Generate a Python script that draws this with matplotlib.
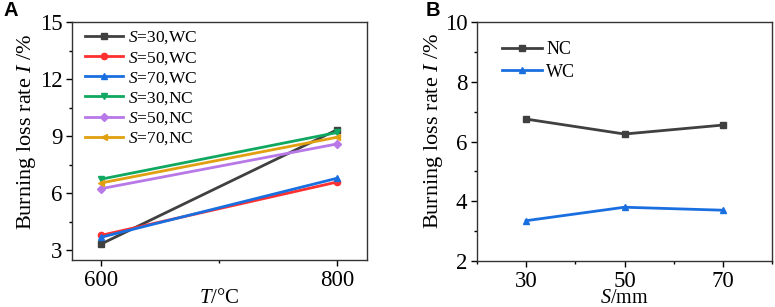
import matplotlib.pyplot as plt
from matplotlib.ticker import MultipleLocator

plt.rcParams['font.family'] = ['Liberation Serif', 'DejaVu Serif']
plt.rcParams['mathtext.fontset'] = 'custom'
plt.rcParams['mathtext.it'] = 'Liberation Serif:italic'
plt.rcParams['mathtext.rm'] = 'Liberation Serif'

# Panel A data
temps = [600, 800]
series_a_labels = ['$S$=30,WC', '$S$=50,WC', '$S$=70,WC', '$S$=30,NC', '$S$=50,NC', '$S$=70,NC']
s30_wc = [3.35, 9.35]
s50_wc = [3.8, 6.6]
s70_wc = [3.7, 6.8]
s30_nc = [6.75, 9.2]
s50_nc = [6.25, 8.6]
s70_nc = [6.55, 8.95]

# Panel B data
spacing = [30, 50, 70]
nc_vals = [6.75, 6.25, 6.55]
wc_vals = [3.35, 3.8, 3.7]

colors = ['#404040', '#ff3030', '#1a6fe0', '#10a860', '#b878e8', '#e0a010']
markers = ['s', 'o', '^', 'v', 'D', '<']

fig = plt.figure(figsize=(7.75, 3.07), dpi=100)
W, H = 775, 307
axA = fig.add_axes([72 / W, 1 - 260 / H, (367 - 72) / W, (260 - 22) / H])
axB = fig.add_axes([477 / W, 1 - 261 / H, (772 - 477) / W, (261 - 22) / H])

for vals, lab, c, m in zip([s30_wc, s50_wc, s70_wc, s30_nc, s50_nc, s70_nc],
                           series_a_labels, colors, markers):
    axA.plot(temps, vals, color=c, marker=m, markersize=4.5 if m != 'D' else 4,
             lw=2, label=lab)
axA.set_xlim(575, 825)
axA.set_ylim(2.5, 15)
axA.set_xticks([600, 800])
axA.xaxis.set_minor_locator(MultipleLocator(100))
axA.set_yticks([3, 6, 9, 12, 15])
axA.yaxis.set_minor_locator(MultipleLocator(1.5))
axA.set_xlabel('$T$/°C', fontsize=15, labelpad=-1.5)
axA.set_ylabel('Burning loss rate $I$ /%', fontsize=16)
axA.yaxis.set_label_coords(-0.115, 0.54)
axA.legend(loc='upper left', bbox_to_anchor=(0.045, 0.968), frameon=False,
           fontsize=12.5, handlelength=2.2, handletextpad=0.25,
           labelspacing=0.2, borderaxespad=0, borderpad=0)

axB.plot(spacing, nc_vals, color='#404040', marker='s', markersize=4.5, lw=2, label='NC')
axB.plot(spacing, wc_vals, color='#1a6fe0', marker='^', markersize=4.5, lw=2, label='WC')
axB.set_xlim(20, 80)
axB.set_ylim(2, 10)
axB.set_xticks([30, 50, 70])
axB.xaxis.set_minor_locator(MultipleLocator(10))
axB.set_yticks([2, 4, 6, 8, 10])
axB.yaxis.set_minor_locator(MultipleLocator(1))
axB.set_xlabel('$S$/mm', fontsize=14.5, labelpad=-2)
axB.set_ylabel('Burning loss rate $I$ /%', fontsize=16)
axB.yaxis.set_label_coords(-0.108, 0.544)
axB.legend(loc='upper left', bbox_to_anchor=(0.085, 0.92), frameon=False,
           fontsize=13, handlelength=2.2, handletextpad=0.25,
           labelspacing=0.3, borderaxespad=0, borderpad=0)

for ax in (axA, axB):
    ax.tick_params(axis='both', which='major', direction='out', length=4, width=1,
                   labelsize=16.5, pad=3)
    ax.tick_params(axis='both', which='minor', direction='out', length=2.5, width=1)
    for sp in ax.spines.values():
        sp.set_linewidth(1)
        sp.set_color('#333333')

fig.text(3 / W, 1 - 10 / H, 'A', fontsize=14.5, fontweight='bold',
         family='Liberation Sans', va='center', ha='left')
fig.text(426 / W, 1 - 10 / H, 'B', fontsize=14.5, fontweight='bold',
         family='Liberation Sans', va='center', ha='left')

fig.savefig('out.png', dpi=100)
